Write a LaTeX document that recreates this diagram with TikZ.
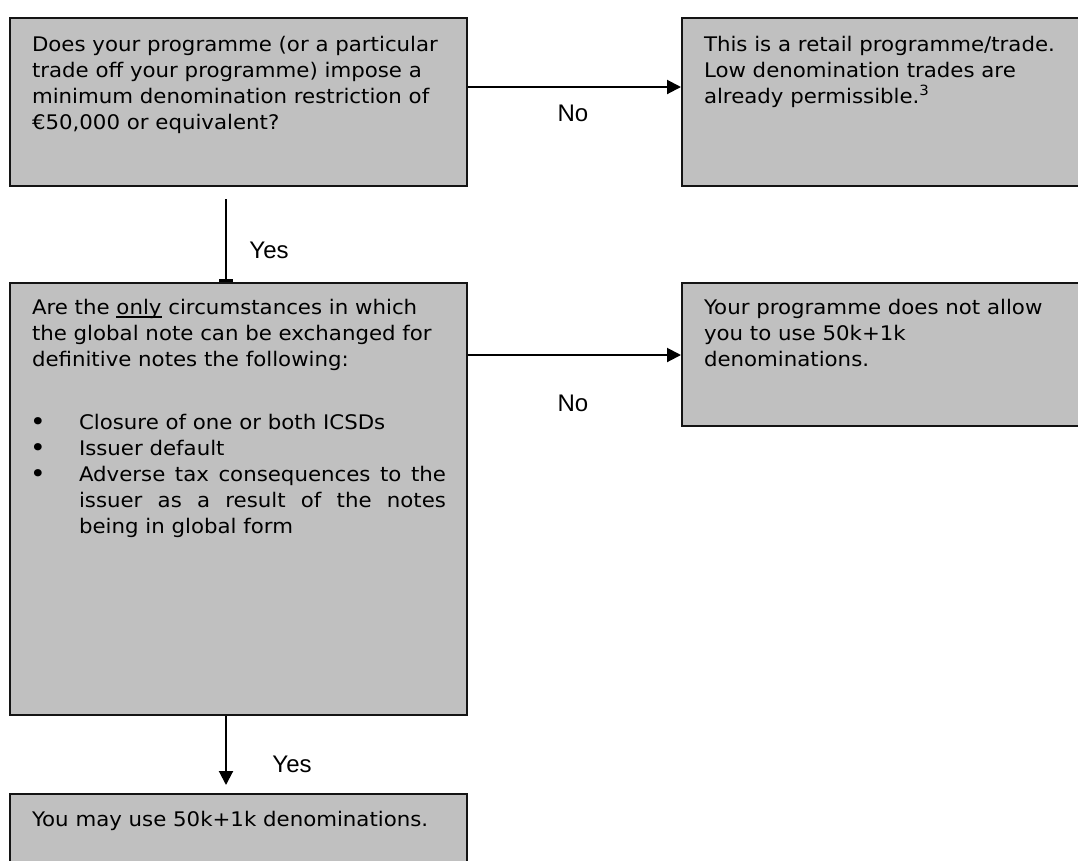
\documentclass[tikz,border=0pt]{standalone}
\usepackage{fontspec}
\setmainfont{DejaVu Sans}[FakeStretch=1.06]
\newfontfamily\labelfont{Liberation Sans}
\usetikzlibrary{arrows.meta}
\definecolor{boxgray}{HTML}{C0C0C0}
\definecolor{edge}{HTML}{141414}
\newcommand{\boxtxt}[4]{% height, width, first baseline, text
  \parbox[c][#1][t]{#2}{\leftskip=22pt\rightskip=21pt\parindent=0pt\parfillskip=0pt plus 1fil
  \fontsize{20.1pt}{26pt}\selectfont\rule{0pt}{#3}#4}}
\newcommand{\undl}[1]{\setbox0\hbox{#1}\rlap{\rule[-3.5pt]{\wd0}{1.5pt}}\box0\relax}
\newcommand{\bul}{\hangindent=47pt\hangafter=1\noindent\makebox[47pt][l]{\hspace{-2pt}\raisebox{-1.5pt}{\fontsize{25pt}{25pt}\selectfont •}}}
\tikzset{
  box/.style={draw=edge, line width=2pt, fill=boxgray, inner sep=0pt, anchor=north west},
  arr/.style={draw=black, line width=2pt, -{Triangle[length=14pt,width=14pt]}},
  lbl/.style={font=\labelfont\fontsize{24pt}{28pt}\selectfont, inner sep=0pt}
}
\begin{document}
\begin{tikzpicture}[x=1pt,y=-1pt]
\useasboundingbox (0,0) rectangle (1078,860);
\clip (0,0) rectangle (1078,860);
\fill[white] (0,0) rectangle (1078,860);

\node[box] (b1) at (9,17) {\boxtxt{168pt}{457pt}{33pt}{Does your programme (or a particular\\ trade off your programme) impose a\\ minimum denomination restriction of\\ €50,000 or equivalent?}};

\node[box] (b2) at (681,17) {\boxtxt{168pt}{420pt}{33pt}{This is a retail programme/trade.\\ Low denomination trades are\\ already permissible.\textsuperscript{3}}};

\node[box] (b3) at (9,282) {\boxtxt{432pt}{457pt}{31pt}{Are the \undl{only} circumstances in which\\ the global note can be exchanged for\\ definitive notes the following:\par
\vspace{37pt}
\bul Closure of one or both ICSDs\par
\bul Issuer default\par
\bul Adverse tax consequences to the\linebreak issuer as a result of the notes\linebreak being in global form\par}};

\node[box] (b4) at (681,282) {\boxtxt{143pt}{420pt}{31pt}{Your programme does not allow\\ you to use 50k+1k\\ denominations.}};

\node[box] (b5) at (9,793) {\boxtxt{110pt}{457pt}{32pt}{You may use 50k+1k denominations.}};

\draw[arr] (b1.east |- 0,87) -- (b2.west |- 0,87);
\node[lbl] (no1) at (573,113) {No};

\coordinate (y1s) at (226,199);
\draw[line width=2pt, -{Rectangle[length=3pt,width=14pt]}] (y1s) -- (y1s |- b3.north);
\node[lbl] (yes1) at (269,250) {Yes};

\draw[arr] (b3.east |- 0,355) -- (b4.west |- 0,355);
\node[lbl] (no2) at (573,403) {No};

\coordinate (y2e) at (226,785);
\draw[arr] (b3.south -| y2e) -- (y2e);
\node[lbl] (yes2) at (292,764) {Yes};
\end{tikzpicture}
\end{document}
